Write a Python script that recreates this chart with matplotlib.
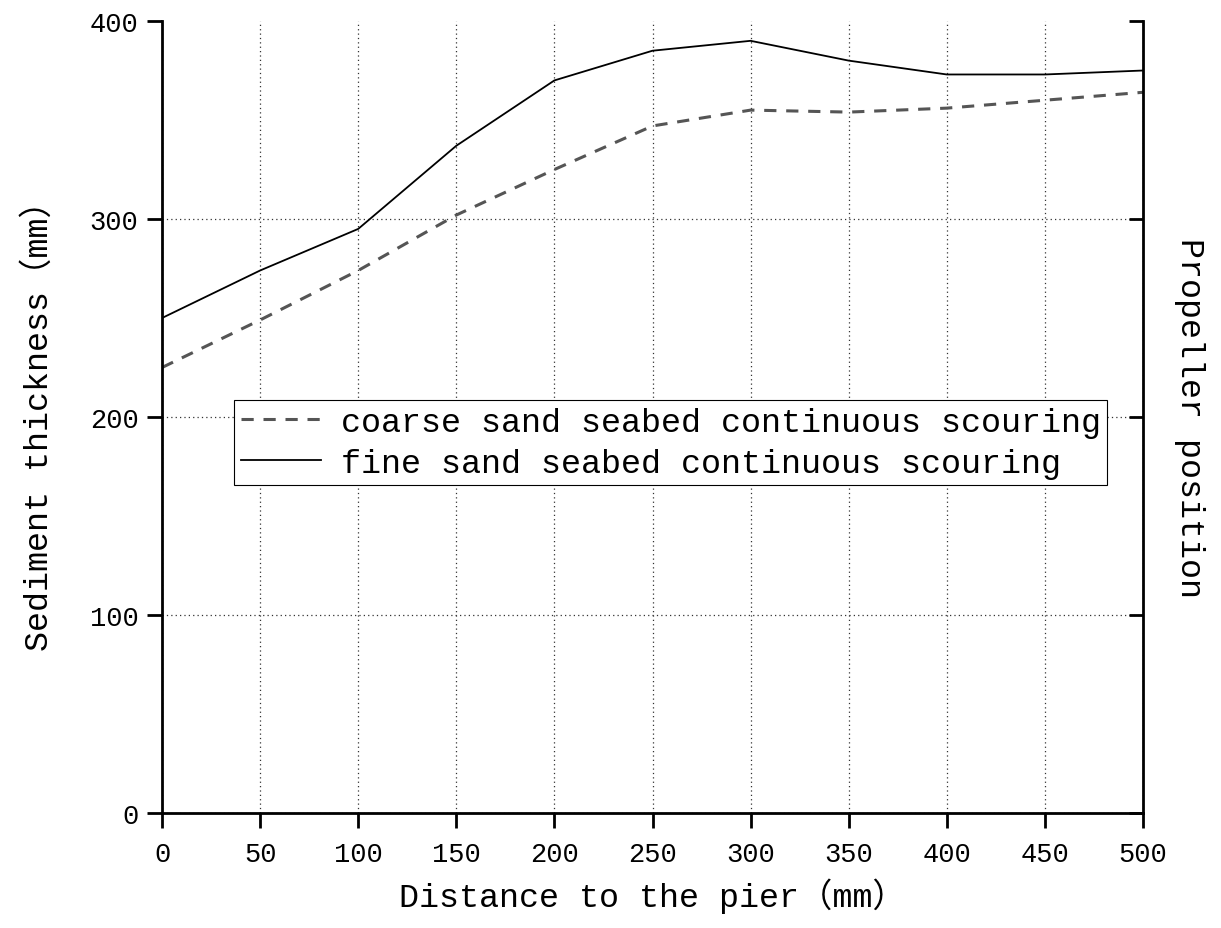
#!/usr/bin/env python3
"""
Sediment thickness along the pier for two seabed types
"""

import matplotlib
matplotlib.use('Agg')
import matplotlib.pyplot as plt

plt.rcParams['font.family'] = ['Liberation Mono', 'Noto Sans CJK SC']

# Distance to the pier (mm)
distance = [0, 50, 100, 150, 200, 250, 300, 350, 400, 450, 500]

# Sediment thickness (mm)
coarse_sand = [225, 249, 274, 302, 325, 347, 355, 354, 356, 360, 364]
fine_sand = [250, 274, 295, 337, 370, 385, 390, 380, 373, 373, 375]

series_labels = ['coarse sand seabed continuous scouring',
                 'fine sand seabed continuous scouring']

x_ticks = [0, 50, 100, 150, 200, 250, 300, 350, 400, 450, 500]
y_ticks = [0, 100, 200, 300, 400]

fig = plt.figure(figsize=(12.21, 9.29), dpi=100)
ax = fig.add_axes([0.1327, 0.1238, 0.8034, 0.8525])

ax.plot(distance, coarse_sand, color='#555555', linewidth=2.2,
        linestyle=(0, (4, 3.2)), label=series_labels[0])
ax.plot(distance, fine_sand, color='black', linewidth=1.3,
        label=series_labels[1])

ax.set_xlim(0, 500)
ax.set_ylim(0, 400)
ax.set_xticks(x_ticks)
ax.set_yticks(y_ticks)

# Grid (dotted), none along the top edge
ax.grid(True, linestyle=(0, (1, 2.5)), color='#333333', linewidth=0.9)
ax.yaxis.get_gridlines()[-1].set_visible(False)

# Spines
ax.spines['top'].set_visible(False)
for side in ('left', 'bottom', 'right'):
    ax.spines[side].set_linewidth(2.0)

ax.tick_params(axis='x', direction='out', length=11, width=2.0,
               labelsize=19.5, pad=9)
ax.tick_params(axis='y', direction='out', length=11, width=2.0,
               labelsize=19.5, pad=6)

ax.set_xlabel('Distance to the pier（mm）', fontsize=24, labelpad=8)
ax.set_ylabel('Sediment thickness（mm）', fontsize=24, labelpad=25)

# Right axis: inward ticks, no labels, title only
ax_r = ax.twinx()
ax_r.set_ylim(0, 400)
ax_r.set_yticks(y_ticks)
ax_r.tick_params(axis='y', direction='in', length=10, width=2.0,
                 labelright=False)
for side in ('top', 'right', 'left', 'bottom'):
    ax_r.spines[side].set_visible(False)
ax_r.set_ylabel('Propeller position', fontsize=24, rotation=270,
                labelpad=45)

leg = ax.legend(loc='upper left', bbox_to_anchor=(0.0734, 0.5215),
                borderaxespad=0, fontsize=24, handlelength=2.4,
                handletextpad=0.6, borderpad=0.2, labelspacing=0.3,
                fancybox=False, framealpha=1, edgecolor='black')
leg.get_frame().set_linewidth(0.8)

fig.savefig('out.png', dpi=100)
